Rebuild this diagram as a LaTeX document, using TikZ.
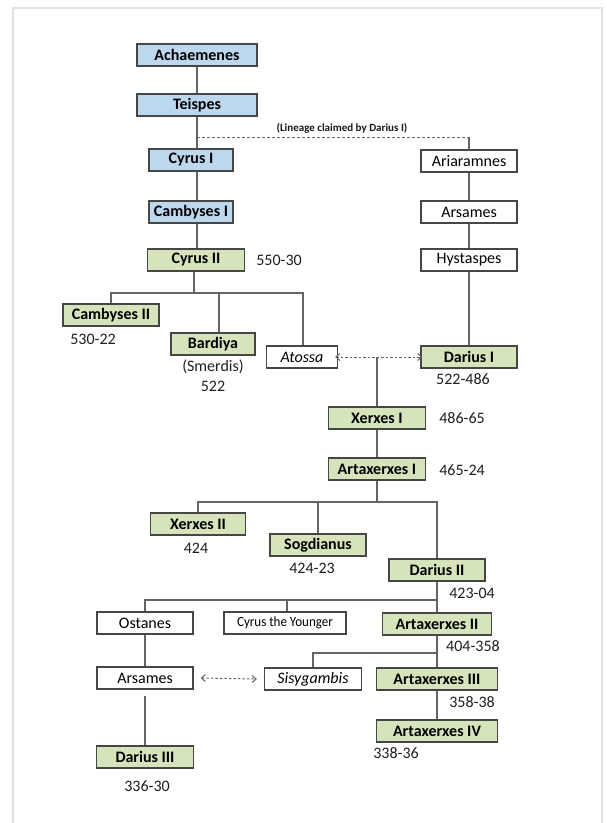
\documentclass[tikz,border=0pt]{standalone}
\usepackage{fontspec}
\setmainfont{Carlito}
\newfontfamily\condfont[FakeStretch=0.93]{Carlito}
\usetikzlibrary{arrows.meta}
\definecolor{boxblue}{RGB}{189,215,238}
\definecolor{boxgreen}{RGB}{214,228,188}
\definecolor{boxline}{RGB}{70,70,70}
\definecolor{conline}{RGB}{100,100,100}
\definecolor{frameline}{RGB}{225,225,225}
\tikzset{
  base/.style={draw=boxline, line width=1.3pt, minimum height=22pt, inner sep=0pt, font=\fontsize{16}{18}\selectfont},
  bluebox/.style={base, fill=boxblue, font=\fontsize{16}{18}\selectfont\bfseries},
  greenbox/.style={base, fill=boxgreen, font=\fontsize{16}{18}\selectfont\bfseries},
  whitebox/.style={base, fill=white},
  datelbl/.style={inner sep=0pt, font=\fontsize{16}{18}\selectfont, text=black!88},
  con/.style={draw=conline, line width=1.1pt},
  dashcon/.style={draw=conline, line width=1pt, dash pattern=on 3pt off 2pt},
  dasharrow/.style={draw=conline, line width=1pt, dash pattern=on 2.5pt off 2pt, {Straight Barb[length=4pt,width=7pt]}-{Straight Barb[length=4pt,width=7pt]}}
}
\begin{document}
\begin{tikzpicture}[x=1pt,y=-1pt]
\useasboundingbox (0,0) rectangle (607,823);
\fill[white] (0,0) rectangle (607,823);
\draw[frameline, line width=1.5pt] (13,830) -- (13,8) -- (602,8) -- (602,830);

% left lineage
\node[bluebox, minimum width=120pt] (ach) at (197,55) {Achaemenes};
\node[bluebox, minimum width=120pt] (tei) at (197,105) {Teispes};
\node[bluebox, minimum width=84pt] (cy1) at (191,160) {Cyrus I};
\node[bluebox, minimum width=84pt] (cam1) at (191,212) {Cambyses I};
\node[greenbox, minimum width=97pt] (cy2) at (196,260) {Cyrus II};
% right lineage
\node[whitebox, minimum width=96pt] (ari) at (469,161) {Ariaramnes};
\node[whitebox, minimum width=96pt] (ars1) at (469,212) {Arsames};
\node[whitebox, minimum width=96pt] (hys) at (469,260) {Hystaspes};
% generation after Cyrus II
\node[greenbox, minimum width=96pt] (cam2) at (111,315) {Cambyses II};
\node[greenbox, minimum width=84pt] (bar) at (213,344) {Bardiya};
\node[whitebox, minimum width=71pt, font=\fontsize{16}{18}\selectfont\itshape] (ato) at (302,357) {Atossa};
\node[greenbox, minimum width=96pt] (dar1) at (469,357) {Darius I};
\node[greenbox, minimum width=97pt] (xer1) at (377,418) {Xerxes I};
\node[greenbox, minimum width=97pt] (art1) at (377,469) {Artaxerxes I};
\node[greenbox, minimum width=95pt] (xer2) at (198,524) {Xerxes II};
\node[greenbox, minimum width=96pt] (sog) at (318,545) {Sogdianus};
\node[greenbox, minimum width=96pt] (dar2) at (437,570) {Darius II};
\node[whitebox, minimum width=96pt] (ost) at (145,623) {Ostanes};
\node[whitebox, minimum width=122pt, font=\fontsize{14}{16}\condfont] (cyy) at (285,623) {Cyrus the Younger};
\node[greenbox, minimum width=109pt] (art2) at (437,624) {Artaxerxes II};
\node[whitebox, minimum width=96pt] (ars2) at (145,678) {Arsames};
\node[whitebox, minimum width=97pt, font=\fontsize{16}{18}\selectfont\itshape] (sis) at (313,679) {Sisygambis};
\node[greenbox, minimum width=121pt] (art3) at (437,679) {Artaxerxes III};
\node[greenbox, minimum width=121pt] (art4) at (437,731) {Artaxerxes IV};
\node[greenbox, minimum width=97pt] (dar3) at (145,757) {Darius III};

% labels
\node[inner sep=0pt, font=\fontsize{11}{13}\selectfont\bfseries, text=black!90] (lin) at (342,128) {(Lineage claimed by Darius I)};
\node[datelbl] (dcy2) at (279,260) {550-30};
\node[datelbl] (dcam2) at (93,339) {530-22};
\node[datelbl] (smer) at (213,367) {(Smerdis)};
\node[datelbl] (dbar) at (213,386) {522};
\node[datelbl] (ddar1) at (463,379) {522-486};
\node[datelbl] (dxer1) at (462,418) {486-65};
\node[datelbl] (dart1) at (462,470) {465-24};
\node[datelbl] (dxer2) at (196,548) {424};
\node[datelbl] (dsog) at (312,568) {424-23};
\node[datelbl] (ddar2) at (472,593) {423-04};
\node[datelbl] (dart2) at (473,646) {404-358};
\node[datelbl] (dart3) at (472,702) {358-38};
\node[datelbl] (dart4) at (396,753) {338-36};
\node[datelbl] (ddar3) at (147,786) {336-30};

% junction coordinates
\coordinate (j1) at (197,137);
\coordinate (j2) at (469,137);
\coordinate (b1) at (194,293);
\coordinate (b2) at (378,502);
\coordinate (b3) at (437,600);
\coordinate (b4) at (437,653);

% connectors
\draw[con] (ach) -- (tei);
\draw[con] (tei.south) -- (tei.south |- cy1.north);
\draw[dashcon] (j1) -- (j2);
\draw[con] (j2) -- (ari.north);
\draw[con] (j1 |- cy1.south) -- (j1 |- cam1.north);
\draw[con] (j1 |- cam1.south) -- (j1 |- cy2.north);
\draw[con] (ari) -- (ars1);
\draw[con] (ars1) -- (hys);
\draw[con] (hys) -- (dar1);

\draw[con] (b1 |- cy2.south) -- (b1);
\draw[con] (cam2.north) -- (cam2.north |- b1) -- (303,293) -- (303,293 |- ato.north);
\draw[con] (219,293) -- (219,293 |- bar.north);

\draw[dasharrow] ([xshift=-3pt]ato.east) -- ([xshift=2pt]dar1.west);
\draw[con] (xer1.north |- ato.east) -- (xer1.north);
\draw[con] (xer1) -- (art1);

\draw[con] (art1.south) -- (art1.south |- b2);
\draw[con] (xer2.north) -- (xer2.north |- b2) -- (dar2.north |- b2) -- (dar2.north);
\draw[con] (sog.north) -- (sog.north |- b2);

\draw[con] (dar2.south) -- (art2.north);
\draw[con] (ost.north) -- (ost.north |- b3) -- (b3);
\draw[con] (287,600) -- (287,600 |- cyy.north);

\draw[con] (art2.south) -- (art3.north);
\draw[con] (sis.north) -- (sis.north |- b4) -- (b4);
\draw[con] (art3) -- (art4);

\draw[con] (ost) -- (ars2);
\draw[con] ([yshift=-6pt]ars2.south) -- (dar3.north);
\draw[dasharrow] ([xshift=7pt]ars2.east) -- ([xshift=-7pt]sis.west);
\end{tikzpicture}
\end{document}
